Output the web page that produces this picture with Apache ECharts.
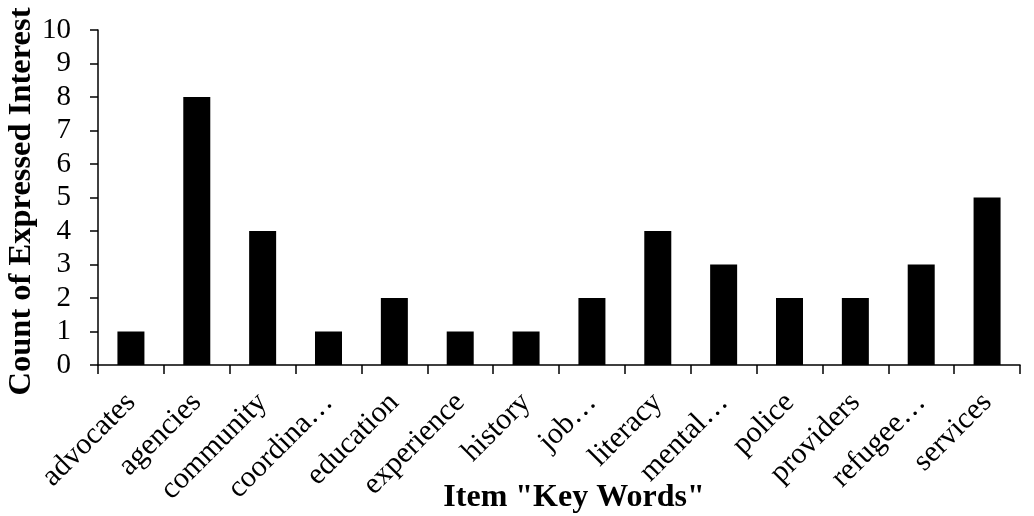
<!DOCTYPE html>
<html><head><meta charset="utf-8">
<script src="https://cdn.jsdelivr.net/npm/echarts@6/dist/echarts.min.js"></script>
<style>html,body{margin:0;padding:0;background:#fff}#c{width:1034px;height:516px}</style>
</head><body><div id="c"></div>
<script>
const categories = ["advocates","agencies","community","coordina…","education","experience","history","job…","literacy","mental…","police","providers","refugee…","services"];
const counts = [1,8,4,1,2,1,1,2,4,3,2,2,3,5];
const yTicks = {min:0,max:10,interval:1};
const font = "'Liberation Serif','Times New Roman',serif";
const chart = echarts.init(document.getElementById('c'));
chart.setOption({
  animation:false,
  grid:{left:98,right:14,top:30,bottom:151,outerBoundsMode:'none',containLabel:false},
  xAxis:{
    type:'category',data:categories,
    name:'Item "Key Words"',nameLocation:'middle',nameGap:117,nameMoveOverlap:false,
    nameTextStyle:{fontFamily:font,fontSize:32,fontWeight:'bold',color:'#000',padding:[0,0,0,30]},
    axisLine:{lineStyle:{color:'#000',width:1.5}},
    axisTick:{show:true,length:9,alignWithLabel:false,lineStyle:{color:'#000',width:1.5}},
    axisLabel:{rotate:45,interval:0,margin:33,fontFamily:font,fontSize:30,color:'#000'}
  },
  yAxis:{
    type:'value',min:yTicks.min,max:yTicks.max,interval:yTicks.interval,
    name:'Count of Expressed Interest',nameLocation:'middle',nameGap:60,nameMoveOverlap:false,
    nameTextStyle:{fontFamily:font,fontSize:32.5,fontWeight:'bold',color:'#000',padding:[0,8,0,0]},
    axisLine:{show:true,lineStyle:{color:'#000',width:1.5}},
    axisTick:{show:true,length:8,lineStyle:{color:'#000',width:1.5}},
    axisLabel:{margin:27,fontFamily:font,fontSize:29,color:'#000'},
    splitLine:{show:false}
  },
  series:[{type:'bar',data:counts,barWidth:'41%',itemStyle:{color:'#000'}}]
});
</script></body></html>
